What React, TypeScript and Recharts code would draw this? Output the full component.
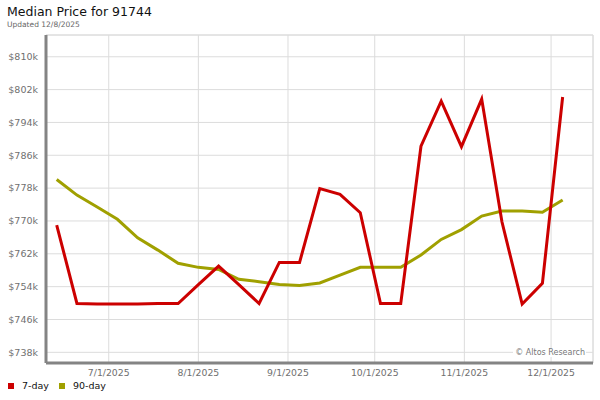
import { CartesianGrid, Line, LineChart, ReferenceLine, XAxis, YAxis } from 'recharts'

const weekDates = [
  '2025-06-13', '2025-06-20', '2025-06-27', '2025-07-04', '2025-07-11', '2025-07-18',
  '2025-07-25', '2025-08-01', '2025-08-08', '2025-08-15', '2025-08-22', '2025-08-29',
  '2025-09-05', '2025-09-12', '2025-09-19', '2025-09-26', '2025-10-03', '2025-10-10',
  '2025-10-17', '2025-10-24', '2025-10-31', '2025-11-07', '2025-11-14', '2025-11-21',
  '2025-11-28', '2025-12-05',
]

// values in $k
const sevenDay = [
  769.0, 749.9, 749.75, 749.75, 749.75, 749.9, 749.9, 754.5, 759.0, 754.5, 749.9, 759.9,
  759.9, 777.9, 776.5, 772.0, 749.9, 749.9, 788.2, 799.2, 788.1, 799.7, 769.8, 749.75,
  754.8, 800.2,
]

const ninetyDay = [
  780.1, 776.3, 773.4, 770.4, 765.9, 762.9, 759.7, 758.7, 758.2, 755.8, 755.2, 754.5,
  754.3, 754.9, 756.8, 758.7, 758.7, 758.7, 761.7, 765.5, 767.9, 771.2, 772.4, 772.4,
  772.1, 775.1,
]

const monthTicks = ['2025-07-01', '2025-08-01', '2025-09-01', '2025-10-01', '2025-11-01', '2025-12-01']
const priceTicks = [738, 746, 754, 762, 770, 778, 786, 794, 802, 810]

const DAY = 86400000
const toTime = (s: string) => Date.parse(s + 'T00:00:00Z')

const data = weekDates.map((d, i) => ({
  t: toTime(d),
  seven: sevenDay[i],
  ninety: ninetyDay[i],
}))

const xMin = toTime(weekDates[0]) - 3.7 * DAY
const xMax = toTime(weekDates[weekDates.length - 1]) + 10.5 * DAY
const yMin = 735.4
const yMax = 815.3

const RED = '#cc0000'
const OLIVE = '#a0a000'
const FONT = '"DejaVu Sans", Verdana, sans-serif'

function formatDate(value: number): string {
  const d = new Date(value)
  return `${d.getUTCMonth() + 1}/${d.getUTCDate()}/${d.getUTCFullYear()}`
}

export default function App() {
  return (
    <div style={{ position: 'absolute', left: 0, top: 0, width: 600, height: 400, background: '#fff', fontFamily: FONT }}>
      <div style={{ position: 'absolute', left: 7, top: 4, fontSize: 12.5, color: '#111', whiteSpace: 'nowrap' }}>
        Median Price for 91744
      </div>
      <div style={{ position: 'absolute', left: 7, top: 20, fontSize: 7.5, color: '#666', whiteSpace: 'nowrap' }}>
        Updated 12/8/2025
      </div>
      <LineChart
        width={600}
        height={400}
        data={data}
        margin={{ top: 35, right: 7, bottom: 0, left: 0 }}
        style={{ position: 'absolute', left: 0, top: 0 }}
      >
        <CartesianGrid stroke="#dcdcdc" strokeWidth={1} />
        <ReferenceLine y={yMax} stroke="#dcdcdc" />
        <ReferenceLine x={xMax} stroke="#dcdcdc" />
        <XAxis
          dataKey="t"
          type="number"
          domain={[xMin, xMax]}
          ticks={monthTicks.map(toTime)}
          tickFormatter={formatDate}
          allowDataOverflow
          height={37}
          axisLine={{ stroke: '#848484', strokeWidth: 3 }}
          tickLine={false}
          tickSize={4}
          tickMargin={2}
          tick={{ fontSize: 9.3, fill: '#707070', fontFamily: FONT }}
        />
        <YAxis
          type="number"
          domain={[yMin, yMax]}
          ticks={priceTicks}
          tickFormatter={(v: number) => `$${v}k`}
          allowDataOverflow
          width={46}
          axisLine={{ stroke: '#848484', strokeWidth: 3 }}
          tickLine={false}
          tickSize={6}
          tickMargin={2}
          tick={{ fontSize: 9.5, fill: '#707070', fontFamily: FONT }}
        />
        <Line
          type="linear"
          dataKey="ninety"
          stroke={OLIVE}
          strokeWidth={3}
          dot={false}
          isAnimationActive={false}
        />
        <Line
          type="linear"
          dataKey="seven"
          stroke={RED}
          strokeWidth={3}
          dot={false}
          isAnimationActive={false}
        />
      </LineChart>
      <div
        style={{
          position: 'absolute',
          right: 14,
          top: 348,
          fontSize: 8,
          color: '#777',
          background: '#fff',
          padding: '0 1px 0 2px',
          whiteSpace: 'nowrap',
        }}
      >
        © Altos Research
      </div>
      <div style={{ position: 'absolute', left: 8, top: 380, fontSize: 9.5, color: '#111', display: 'flex', alignItems: 'center', whiteSpace: 'nowrap' }}>
        <span style={{ width: 6, height: 6, background: RED, display: 'inline-block', marginRight: 8 }} />
        <span style={{ marginRight: 10 }}>7-day</span>
        <span style={{ width: 6, height: 6, background: OLIVE, display: 'inline-block', marginRight: 8 }} />
        <span>90-day</span>
      </div>
    </div>
  )
}
